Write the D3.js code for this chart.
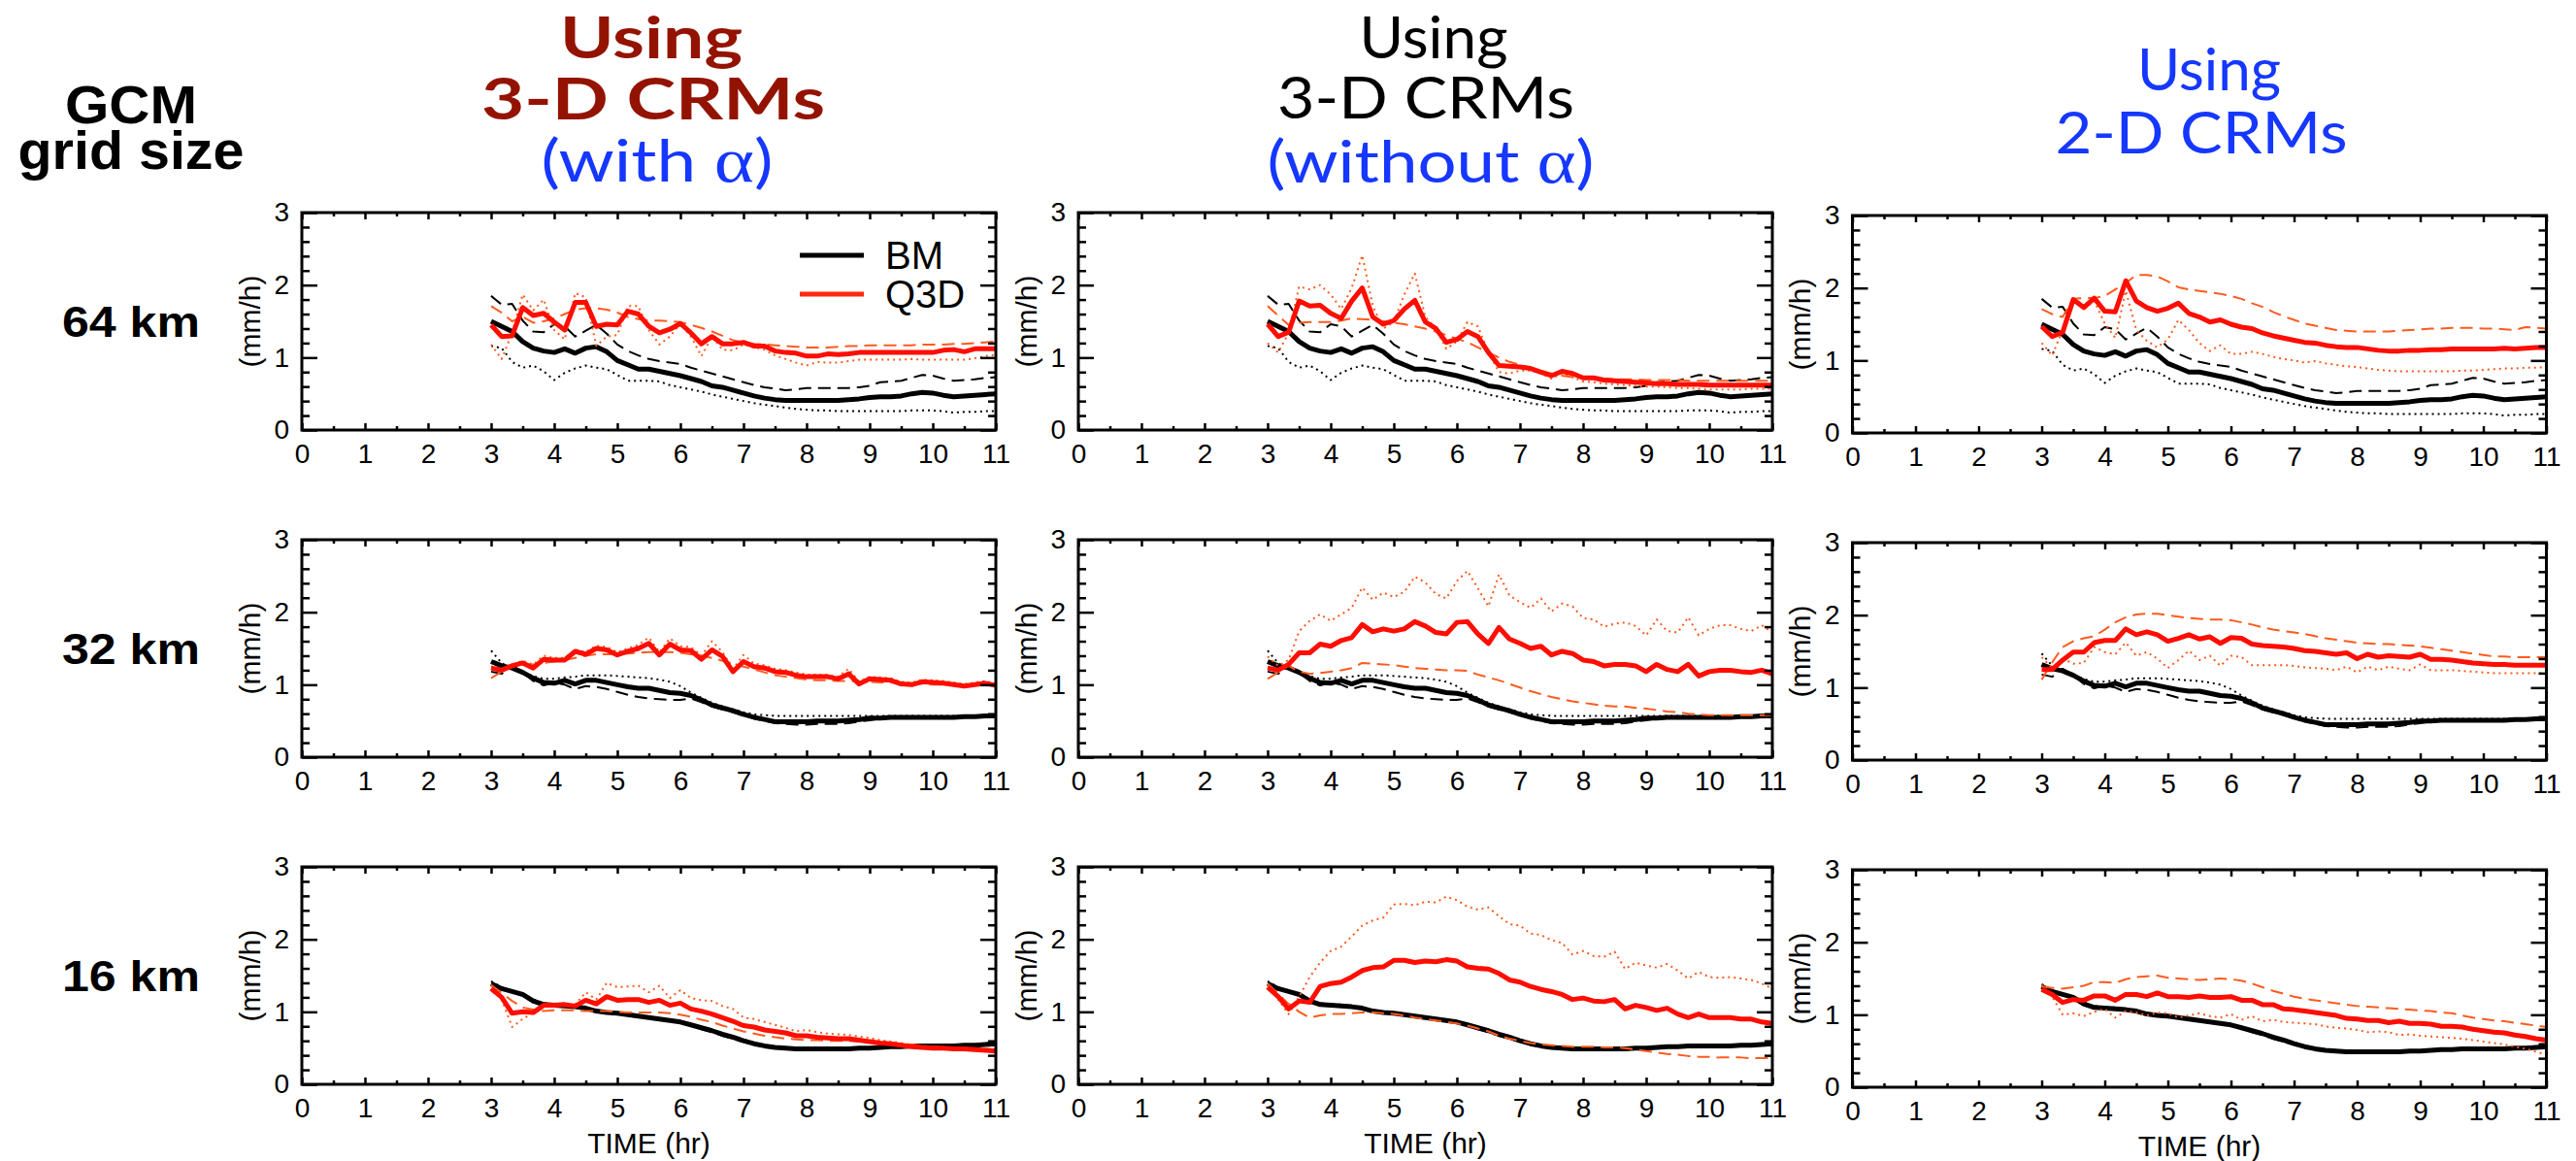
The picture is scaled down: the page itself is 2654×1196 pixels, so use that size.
<!DOCTYPE html>
<html><head><meta charset="utf-8">
<script src="https://cdn.jsdelivr.net/npm/d3@7"></script>
<style>body{margin:0;background:#fff}svg{display:block}</style>
</head><body>
<script>
// ---------- DATA ----------
const T = [3,3.167,3.333,3.5,3.667,3.833, 4,4.167,4.333,4.5,4.667,4.833, 5,5.167,5.333,5.5,5.667,5.833,
  6,6.167,6.333,6.5,6.667,6.833, 7,7.167,7.333,7.5,7.667,7.833, 8,8.167,8.333,8.5,8.667,8.833,
  9,9.167,9.333,9.5,9.667,9.833, 10,10.167,10.333,10.5,10.667,10.833, 11];
const X_TICKS = [0,1,2,3,4,5,6,7,8,9,10,11];
const Y_TICKS = [0,1,2,3];
const ROW_LABELS = ["64 km","32 km","16 km"];
const LEGEND_LABELS = ["BM","Q3D"];

// 64 km — BM (same in all three columns)
const BM64_MEAN = [1.50,1.43,1.36,1.22,1.13,1.09, 1.07,1.12,1.06,1.13,1.15,1.08, 0.96,0.90,0.84,0.84,0.81,0.78, 0.75,0.71,0.67,0.61,0.59,0.55, 0.51,0.47,0.44,0.42,0.41,0.41, 0.41,0.41,0.41,0.41,0.42,0.43, 0.45,0.46,0.46,0.47,0.50,0.52, 0.51,0.48,0.46,0.47,0.48,0.49, 0.50];
const BM64_DASH = [1.85,1.73,1.74,1.51,1.36,1.35, 1.46,1.43,1.29,1.37,1.45,1.33, 1.18,1.09,1.03,0.98,0.95,0.93, 0.91,0.86,0.82,0.78,0.74,0.70, 0.66,0.62,0.59,0.57,0.55,0.56, 0.58,0.58,0.58,0.58,0.58,0.59, 0.61,0.66,0.67,0.68,0.72,0.76, 0.75,0.71,0.68,0.69,0.70,0.72, 0.73];
const BM64_DOT = [1.16,1.13,0.94,0.86,0.89,0.81, 0.69,0.79,0.85,0.89,0.86,0.84, 0.76,0.68,0.68,0.68,0.67,0.62, 0.59,0.56,0.53,0.49,0.46,0.43, 0.40,0.37,0.35,0.33,0.31,0.29, 0.28,0.27,0.27,0.26,0.26,0.26, 0.26,0.26,0.26,0.26,0.27,0.27, 0.27,0.26,0.24,0.25,0.25,0.26, 0.26];
// 64 km — Q3D
const Q64_WITH_MEAN = [1.45,1.29,1.30,1.69,1.58,1.61, 1.49,1.38,1.76,1.76,1.43,1.46, 1.45,1.64,1.60,1.43,1.34,1.39, 1.47,1.34,1.19,1.29,1.19,1.19, 1.21,1.16,1.16,1.09,1.07,1.06, 1.02,1.02,1.05,1.04,1.05,1.07, 1.07,1.07,1.07,1.07,1.07,1.07, 1.07,1.10,1.11,1.08,1.12,1.12, 1.12];
const Q64_WITH_DASH = [1.71,1.62,1.50,1.56,1.48,1.50, 1.54,1.60,1.66,1.68,1.68,1.66, 1.62,1.56,1.53,1.51,1.51,1.50, 1.49,1.45,1.41,1.36,1.30,1.24, 1.21,1.19,1.18,1.17,1.16,1.15, 1.14,1.14,1.14,1.15,1.16,1.16, 1.17,1.17,1.17,1.17,1.17,1.18, 1.18,1.18,1.19,1.19,1.20,1.21, 1.22];
const Q64_WITH_DOT = [1.18,0.98,1.34,1.87,1.65,1.80, 1.38,1.25,1.89,1.83,1.16,1.29, 1.31,1.71,1.71,1.38,1.18,1.29, 1.47,1.29,1.02,1.29,1.11,1.10, 1.18,1.14,1.11,1.03,0.98,0.93, 0.89,0.94,0.93,0.93,0.95,0.97, 0.97,0.97,0.97,0.97,0.98,0.97, 0.97,0.97,0.97,0.97,0.99,1.02, 1.04];
const Q64_WITHOUT_MEAN = [1.46,1.29,1.35,1.78,1.71,1.72, 1.61,1.54,1.78,1.96,1.56,1.46, 1.51,1.67,1.79,1.49,1.40,1.21, 1.25,1.36,1.29,1.07,0.89,0.88, 0.87,0.85,0.80,0.75,0.81,0.78, 0.72,0.72,0.69,0.68,0.67,0.66, 0.65,0.64,0.64,0.63,0.63,0.63, 0.62,0.62,0.62,0.62,0.62,0.62, 0.62];
const Q64_WITHOUT_DASH = [1.71,1.58,1.45,1.48,1.49,1.49, 1.49,1.51,1.54,1.53,1.52,1.50, 1.48,1.46,1.43,1.40,1.36,1.31, 1.26,1.21,1.14,1.07,1.00,0.94, 0.90,0.86,0.82,0.78,0.75,0.73, 0.72,0.71,0.71,0.70,0.70,0.70, 0.69,0.69,0.69,0.69,0.68,0.68, 0.68,0.68,0.68,0.68,0.68,0.68, 0.68];
const Q64_WITHOUT_DOT = [1.20,1.07,1.34,1.98,1.94,2.00, 1.87,1.67,1.96,2.41,1.71,1.40, 1.49,1.87,2.16,1.56,1.40,1.12, 1.22,1.49,1.43,1.07,0.80,0.78, 0.82,0.82,0.78,0.71,0.78,0.73, 0.67,0.66,0.64,0.63,0.62,0.61, 0.60,0.60,0.59,0.58,0.58,0.57, 0.56,0.56,0.56,0.56,0.57,0.57, 0.57];
const Q64_2D_MEAN = [1.47,1.33,1.39,1.84,1.73,1.86, 1.68,1.67,2.10,1.82,1.73,1.68, 1.72,1.79,1.65,1.60,1.53,1.56, 1.50,1.46,1.44,1.38,1.34,1.31, 1.28,1.25,1.24,1.21,1.19,1.18, 1.18,1.16,1.14,1.13,1.13,1.14, 1.14,1.15,1.15,1.16,1.16,1.16, 1.16,1.16,1.17,1.16,1.17,1.18, 1.18];
const Q64_2D_DASH = [1.71,1.64,1.60,1.85,1.86,1.86, 1.89,1.98,2.07,2.18,2.18,2.16, 2.09,2.01,1.98,1.96,1.94,1.92, 1.89,1.85,1.79,1.74,1.67,1.61, 1.56,1.51,1.48,1.45,1.42,1.41, 1.40,1.40,1.40,1.40,1.41,1.42, 1.43,1.44,1.44,1.45,1.45,1.45, 1.44,1.44,1.43,1.42,1.46,1.45, 1.44];
const Q64_2D_DOT = [1.24,1.07,1.42,1.86,1.71,1.82, 1.51,1.31,1.96,1.42,1.27,1.18, 1.29,1.56,1.42,1.24,1.13,1.21, 1.09,1.09,1.12,1.09,1.05,1.02, 1.00,0.97,0.99,0.96,0.94,0.92, 0.91,0.89,0.87,0.86,0.85,0.85, 0.85,0.85,0.85,0.85,0.86,0.86, 0.87,0.88,0.89,0.89,0.90,0.90, 0.91];

// 32 km — BM
const BM32_MEAN = [1.32,1.26,1.23,1.17,1.09,1.03, 1.02,1.06,1.01,1.06,1.06,1.03, 1.00,0.97,0.95,0.95,0.92,0.89, 0.88,0.85,0.79,0.72,0.68,0.64, 0.59,0.55,0.52,0.49,0.49,0.49, 0.49,0.50,0.50,0.50,0.51,0.52, 0.54,0.54,0.55,0.55,0.55,0.55, 0.55,0.55,0.55,0.56,0.56,0.57, 0.57];
const BM32_DASH = [1.18,1.15,1.26,1.17,1.05,0.99, 1.03,1.00,0.94,0.98,0.97,0.94, 0.90,0.86,0.83,0.81,0.80,0.79, 0.79,0.81,0.76,0.70,0.66,0.62, 0.58,0.54,0.50,0.47,0.46,0.45, 0.45,0.46,0.46,0.46,0.47,0.49, 0.51,0.53,0.54,0.54,0.54,0.55, 0.55,0.54,0.54,0.55,0.55,0.56, 0.56];
const BM32_DOT = [1.47,1.30,1.21,1.17,1.12,1.08, 1.08,1.10,1.11,1.13,1.13,1.13, 1.12,1.11,1.10,1.09,1.07,1.04, 0.98,0.89,0.82,0.75,0.70,0.66, 0.62,0.59,0.58,0.57,0.57,0.57, 0.57,0.57,0.57,0.57,0.57,0.57, 0.57,0.57,0.57,0.57,0.57,0.57, 0.57,0.57,0.57,0.57,0.57,0.58, 0.58];
// 32 km — Q3D
const Q32_WITH_MEAN = [1.23,1.20,1.26,1.30,1.23,1.35, 1.34,1.34,1.46,1.42,1.50,1.48, 1.41,1.46,1.50,1.57,1.41,1.56, 1.48,1.47,1.35,1.48,1.39,1.18, 1.32,1.25,1.23,1.18,1.17,1.13, 1.11,1.11,1.11,1.08,1.15,1.01, 1.08,1.07,1.06,1.01,1.00,1.04, 1.03,1.02,1.00,0.98,1.00,1.02, 0.99];
const Q32_WITH_DASH = [1.09,1.18,1.28,1.28,1.28,1.30, 1.32,1.34,1.37,1.40,1.42,1.42, 1.42,1.43,1.44,1.45,1.45,1.45, 1.44,1.42,1.40,1.37,1.33,1.29, 1.25,1.21,1.17,1.13,1.11,1.09, 1.07,1.06,1.06,1.05,1.05,1.04, 1.04,1.03,1.03,1.03,1.02,1.01, 1.00,1.00,1.00,0.99,0.99,1.00, 1.00];
const Q32_WITH_DOT = [1.25,1.22,1.28,1.33,1.28,1.40, 1.37,1.37,1.48,1.45,1.54,1.52, 1.45,1.50,1.55,1.65,1.45,1.64, 1.53,1.52,1.40,1.60,1.45,1.22, 1.41,1.29,1.27,1.22,1.20,1.17, 1.14,1.14,1.14,1.11,1.22,1.04, 1.11,1.10,1.09,1.04,1.03,1.07, 1.06,1.05,1.03,1.01,1.03,1.05, 1.02];
const Q32_WITHOUT_MEAN = [1.23,1.20,1.28,1.44,1.44,1.56, 1.53,1.61,1.65,1.83,1.73,1.77, 1.74,1.77,1.87,1.81,1.72,1.70, 1.86,1.87,1.70,1.57,1.79,1.63, 1.57,1.50,1.53,1.41,1.46,1.43, 1.34,1.32,1.26,1.28,1.28,1.26, 1.18,1.28,1.21,1.18,1.28,1.12, 1.18,1.20,1.20,1.18,1.17,1.20, 1.15];
const Q32_WITHOUT_DASH = [1.08,1.17,1.26,1.18,1.15,1.16, 1.18,1.20,1.23,1.30,1.29,1.28, 1.27,1.25,1.23,1.22,1.21,1.20, 1.20,1.19,1.14,1.10,1.06,1.01, 0.96,0.91,0.87,0.83,0.80,0.77, 0.75,0.73,0.71,0.70,0.70,0.68, 0.67,0.65,0.63,0.62,0.60,0.59, 0.58,0.58,0.58,0.58,0.58,0.58, 0.58];
const Q32_WITHOUT_DOT = [1.39,1.26,1.34,1.74,1.88,1.97, 1.88,1.97,2.06,2.34,2.17,2.27, 2.21,2.28,2.49,2.41,2.25,2.19, 2.43,2.57,2.33,2.08,2.52,2.23, 2.14,2.06,2.19,2.01,2.12,2.08, 1.92,1.90,1.80,1.84,1.86,1.81, 1.68,1.90,1.74,1.72,1.93,1.68, 1.77,1.82,1.82,1.77,1.74,1.82, 1.72];
const Q32_2D_MEAN = [1.25,1.25,1.38,1.49,1.49,1.62, 1.65,1.65,1.81,1.73,1.77,1.73, 1.64,1.68,1.73,1.67,1.70,1.61, 1.69,1.68,1.60,1.58,1.57,1.56, 1.54,1.51,1.50,1.48,1.46,1.48, 1.40,1.46,1.42,1.44,1.43,1.42, 1.46,1.39,1.39,1.38,1.36,1.34, 1.33,1.32,1.32,1.31,1.31,1.31, 1.31];
const Q32_2D_DASH = [1.11,1.35,1.56,1.64,1.68,1.71, 1.80,1.90,1.97,2.01,2.02,2.02, 2.00,1.98,1.96,1.95,1.94,1.94, 1.93,1.90,1.87,1.83,1.80,1.78, 1.76,1.74,1.71,1.68,1.66,1.64, 1.62,1.61,1.60,1.60,1.59,1.58, 1.57,1.55,1.53,1.51,1.49,1.47, 1.45,1.43,1.43,1.42,1.42,1.42, 1.42];
const Q32_2D_DOT = [1.42,1.27,1.40,1.33,1.34,1.56, 1.49,1.46,1.62,1.44,1.49,1.40, 1.27,1.38,1.51,1.38,1.44,1.30, 1.44,1.42,1.31,1.31,1.31,1.31, 1.30,1.28,1.27,1.26,1.24,1.29, 1.21,1.29,1.24,1.29,1.26,1.24, 1.32,1.24,1.24,1.24,1.23,1.22, 1.21,1.20,1.20,1.20,1.20,1.20, 1.20];

// 16 km — BM
const BM16_MEAN = [1.39,1.32,1.28,1.24,1.15,1.10, 1.09,1.08,1.07,1.05,1.01,0.99, 0.98,0.96,0.94,0.92,0.90,0.88, 0.86,0.82,0.78,0.74,0.69,0.65, 0.60,0.56,0.53,0.51,0.50,0.49, 0.49,0.49,0.49,0.49,0.49,0.50, 0.50,0.51,0.52,0.52,0.53,0.53, 0.53,0.53,0.53,0.54,0.54,0.55, 0.56];
const BM16_DASH = [1.37,1.31,1.27,1.22,1.13,1.09, 1.08,1.08,1.06,1.04,1.00,0.98, 0.97,0.95,0.93,0.91,0.89,0.87, 0.85,0.81,0.76,0.72,0.67,0.63, 0.59,0.55,0.52,0.50,0.49,0.48, 0.48,0.48,0.48,0.48,0.48,0.49, 0.49,0.50,0.51,0.52,0.52,0.53, 0.53,0.53,0.53,0.53,0.54,0.55, 0.55];
const BM16_DOT = [1.42,1.34,1.29,1.25,1.17,1.12, 1.10,1.10,1.08,1.06,1.02,1.00, 0.99,0.97,0.95,0.93,0.91,0.89, 0.87,0.83,0.79,0.75,0.70,0.66, 0.62,0.57,0.54,0.52,0.51,0.50, 0.50,0.50,0.50,0.50,0.50,0.51, 0.51,0.52,0.53,0.53,0.54,0.54, 0.54,0.54,0.54,0.55,0.55,0.56, 0.57];
// 16 km — Q3D
const Q16_WITH_MEAN = [1.32,1.20,0.98,1.00,0.99,1.09, 1.09,1.10,1.08,1.16,1.11,1.21, 1.16,1.17,1.17,1.13,1.16,1.09, 1.12,1.04,1.01,0.97,0.92,0.87, 0.81,0.79,0.75,0.73,0.71,0.67, 0.67,0.65,0.64,0.63,0.63,0.61, 0.59,0.57,0.56,0.54,0.52,0.51, 0.50,0.50,0.49,0.49,0.48,0.47, 0.46];
const Q16_WITH_DASH = [1.37,1.26,1.15,1.06,1.03,1.01, 1.02,1.02,1.02,1.01,1.01,1.01, 1.00,0.99,0.99,0.99,0.99,0.98, 0.96,0.93,0.89,0.86,0.81,0.77, 0.73,0.70,0.67,0.65,0.63,0.62, 0.61,0.61,0.60,0.60,0.60,0.59, 0.59,0.58,0.57,0.56,0.55,0.53, 0.52,0.51,0.50,0.50,0.49,0.49, 0.48];
const Q16_WITH_DOT = [1.37,1.17,0.79,0.90,0.99,1.08, 1.08,1.08,1.10,1.27,1.17,1.40, 1.34,1.35,1.36,1.27,1.36,1.19, 1.30,1.19,1.16,1.15,1.08,1.04, 0.92,0.90,0.86,0.82,0.78,0.73, 0.75,0.72,0.70,0.69,0.68,0.66, 0.64,0.61,0.59,0.57,0.54,0.53, 0.52,0.51,0.50,0.50,0.49,0.48, 0.47];
const Q16_WITHOUT_MEAN = [1.34,1.21,1.04,1.15,1.13,1.35, 1.39,1.41,1.48,1.57,1.61,1.62, 1.71,1.71,1.68,1.70,1.69,1.72, 1.70,1.62,1.60,1.59,1.53,1.44, 1.41,1.35,1.31,1.28,1.24,1.17, 1.19,1.15,1.14,1.17,1.04,1.09, 1.06,1.02,1.05,0.97,0.92,0.97, 0.92,0.92,0.92,0.90,0.90,0.86, 0.84];
const Q16_WITHOUT_DASH = [1.39,1.25,1.11,1.00,0.92,0.95, 0.97,0.97,0.98,0.99,0.99,0.98, 0.97,0.95,0.92,0.90,0.88,0.86, 0.84,0.81,0.77,0.73,0.67,0.63, 0.60,0.57,0.55,0.54,0.53,0.52, 0.52,0.52,0.51,0.51,0.50,0.48, 0.46,0.44,0.42,0.41,0.39,0.38, 0.38,0.37,0.37,0.37,0.36,0.36, 0.36];
const Q16_WITHOUT_DOT = [1.37,1.17,0.97,1.21,1.48,1.68, 1.84,1.90,2.04,2.19,2.26,2.30, 2.48,2.49,2.47,2.52,2.51,2.59, 2.54,2.45,2.41,2.44,2.32,2.21, 2.19,2.08,2.06,1.99,1.95,1.79, 1.84,1.77,1.76,1.83,1.59,1.68, 1.64,1.61,1.66,1.57,1.46,1.55, 1.48,1.47,1.48,1.46,1.44,1.39, 1.32];
const Q16_2D_MEAN = [1.35,1.28,1.17,1.21,1.20,1.26, 1.26,1.20,1.28,1.28,1.25,1.30, 1.25,1.25,1.24,1.26,1.24,1.24, 1.25,1.20,1.20,1.14,1.14,1.08, 1.07,1.05,1.03,1.01,0.99,0.95, 0.94,0.92,0.92,0.89,0.91,0.88, 0.88,0.87,0.84,0.84,0.83,0.80, 0.78,0.76,0.75,0.72,0.70,0.67, 0.65];
const Q16_2D_DASH = [1.39,1.37,1.36,1.38,1.40,1.45, 1.45,1.44,1.49,1.52,1.53,1.54, 1.51,1.50,1.49,1.48,1.49,1.50, 1.49,1.47,1.43,1.38,1.33,1.29, 1.25,1.22,1.20,1.18,1.16,1.14, 1.12,1.11,1.10,1.09,1.08,1.07, 1.06,1.05,1.03,1.02,0.99,0.96, 0.94,0.92,0.91,0.89,0.87,0.85, 0.83];
const Q16_2D_DOT = [1.41,1.25,1.00,1.02,0.98,1.04, 1.08,0.96,1.05,1.03,0.99,1.03, 1.02,0.96,0.99,1.02,0.98,0.96, 1.01,0.93,0.98,0.91,0.93,0.90, 0.89,0.88,0.87,0.84,0.82,0.81, 0.79,0.76,0.77,0.76,0.72,0.73, 0.71,0.70,0.69,0.68,0.67,0.65, 0.63,0.61,0.59,0.56,0.53,0.49, 0.45];

// header text lines per column
const HEAD_COL1 = ["Using", "3-D CRMs", "(with α)"];
const HEAD_COL2 = ["Using", "3-D CRMs", "(without α)"];
const HEAD_COL3 = ["Using", "2-D CRMs"];
const SIDE_HEAD = ["GCM", "grid size"];

// ---------- LAYOUT ----------
const W = 2654, H = 1196;
const COL_X = [311, 1111, 1908.5], COL_DY = [0, 0, 3], ROW_Y = [219, 556, 893];
const PW = 715, PH = 224;
const BLACK = "#000", RED = "#ff0d00", ORANGE = "#ff5a1e", LEG_RED = "#ff2a10";
const BLUE = "#1537ff", DARKRED = "#931300";
const SANS = "'Liberation Sans', Arial, sans-serif";

const svg = d3.select("body").append("svg").attr("width", W).attr("height", H)
  .style("font-family", SANS);

const x = d3.scaleLinear().domain([0, 11]).range([0, PW]);
const y = d3.scaleLinear().domain([0, 3]).range([PH, 0]);
const line = d3.line().x((d, i) => x(T[i])).y(d => y(d));

const BM = [[BM64_MEAN, BM64_DASH, BM64_DOT], [BM32_MEAN, BM32_DASH, BM32_DOT], [BM16_MEAN, BM16_DASH, BM16_DOT]];
const Q = [
  [[Q64_WITH_MEAN, Q64_WITH_DASH, Q64_WITH_DOT], [Q64_WITHOUT_MEAN, Q64_WITHOUT_DASH, Q64_WITHOUT_DOT], [Q64_2D_MEAN, Q64_2D_DASH, Q64_2D_DOT]],
  [[Q32_WITH_MEAN, Q32_WITH_DASH, Q32_WITH_DOT], [Q32_WITHOUT_MEAN, Q32_WITHOUT_DASH, Q32_WITHOUT_DOT], [Q32_2D_MEAN, Q32_2D_DASH, Q32_2D_DOT]],
  [[Q16_WITH_MEAN, Q16_WITH_DASH, Q16_WITH_DOT], [Q16_WITHOUT_MEAN, Q16_WITHOUT_DASH, Q16_WITHOUT_DOT], [Q16_2D_MEAN, Q16_2D_DASH, Q16_2D_DOT]]
];

const yMinor = d3.range(0, 3.001, 0.2).filter(v => Math.abs(v - Math.round(v)) > 1e-6);
const xMinor = X_TICKS.slice(0, -1).map(v => v + 0.5);

function styleAxis(sel, withText) {
  sel.select(".domain").remove();
  sel.selectAll(".tick line").attr("stroke", "#000").attr("stroke-width", 2.5);
  sel.selectAll("text").attr("fill", "#000").style("font-size", "28px").style("font-family", SANS);
  if (!withText) sel.selectAll("text").remove();
}

for (let r = 0; r < 3; r++) {
  for (let c = 0; c < 3; c++) {
    const g = svg.append("g").attr("transform", `translate(${COL_X[c]},${ROW_Y[r] + COL_DY[c]})`);
    const [bmMean, bmDash, bmDot] = BM[r];
    const [qMean, qDash, qDot] = Q[r][c];
    const series = [
      {d: bmDot, color: BLACK, w: 2, dash: "2,4"},
      {d: bmDash, color: BLACK, w: 2, dash: "13,7"},
      {d: bmMean, color: BLACK, w: 5, dash: null},
      {d: qDash, color: ORANGE, w: 2, dash: "13,7"},
      {d: qDot, color: ORANGE, w: 2, dash: "2,4"},
      {d: qMean, color: RED, w: 5, dash: null}
    ];
    g.selectAll("path.series").data(series).join("path").attr("class", "series")
      .attr("d", s => line(s.d)).attr("fill", "none").attr("stroke", s => s.color)
      .attr("stroke-width", s => s.w).attr("stroke-dasharray", s => s.dash)
      .attr("stroke-linejoin", "round");

    // axes (ticks point inward on all four sides)
    g.append("g").call(d3.axisLeft(y).tickValues(Y_TICKS).tickSizeInner(-16).tickSizeOuter(0).tickPadding(13).tickFormat(d3.format("d"))).call(s => styleAxis(s, true));
    g.append("g").call(d3.axisLeft(y).tickValues(yMinor).tickSizeInner(-8).tickSizeOuter(0)).call(s => styleAxis(s, false));
    g.append("g").attr("transform", `translate(${PW},0)`).call(d3.axisRight(y).tickValues(Y_TICKS).tickSizeInner(-16).tickSizeOuter(0)).call(s => styleAxis(s, false));
    g.append("g").attr("transform", `translate(${PW},0)`).call(d3.axisRight(y).tickValues(yMinor).tickSizeInner(-8).tickSizeOuter(0)).call(s => styleAxis(s, false));
    g.append("g").attr("transform", `translate(0,${PH})`).call(d3.axisBottom(x).tickValues(X_TICKS).tickSizeInner(-7).tickSizeOuter(0).tickPadding(14).tickFormat(d3.format("d"))).call(s => styleAxis(s, true));
    g.append("g").attr("transform", `translate(0,${PH})`).call(d3.axisBottom(x).tickValues(xMinor).tickSizeInner(-4).tickSizeOuter(0)).call(s => styleAxis(s, false));
    g.append("g").call(d3.axisTop(x).tickValues(X_TICKS).tickSizeInner(-7).tickSizeOuter(0)).call(s => styleAxis(s, false));
    g.append("g").call(d3.axisTop(x).tickValues(xMinor).tickSizeInner(-4).tickSizeOuter(0)).call(s => styleAxis(s, false));

    g.append("rect").attr("x", 0).attr("y", 0).attr("width", PW).attr("height", PH)
      .attr("fill", "none").attr("stroke", "#000").attr("stroke-width", 3);

    g.append("text").attr("transform", `translate(-54,${PH / 2}) rotate(-90)`)
      .attr("text-anchor", "middle").attr("dominant-baseline", "central")
      .style("font-size", "30px").text("(mm/h)");

    if (r === 2) {
      g.append("text").attr("x", PW / 2).attr("y", PH + 71).attr("text-anchor", "middle")
        .style("font-size", "30px").text("TIME (hr)");
    }

    if (r === 0 && c === 0) {
      const lg = g.append("g").attr("transform", "translate(513,44)");
      [BLACK, LEG_RED].forEach((col, i) => {
        lg.append("line").attr("x1", 0).attr("x2", 66).attr("y1", i * 40).attr("y2", i * 40)
          .attr("stroke", col).attr("stroke-width", 5);
        lg.append("text").attr("x", 88).attr("y", i * 40).attr("dominant-baseline", "central")
          .style("font-size", "40px").text(LEGEND_LABELS[i]);
      });
    }
  }
}

// row labels
ROW_LABELS.forEach((lab, r) => {
  svg.append("text").attr("x", 135).attr("y", ROW_Y[r] + PH / 2 + 16).attr("text-anchor", "middle")
    .attr("textLength", 142).attr("lengthAdjust", "spacingAndGlyphs")
    .style("font-size", "44px").style("font-weight", "bold").text(lab);
});

// multi-line text block helper: one <text>, one <tspan> per line (α nested in its line)
function block(lines, opts) {
  const t = svg.append("text").attr("text-anchor", "middle")
    .style("font-family", opts.font).style("font-size", opts.size + "px");
  lines.forEach((s, i) => {
    const col = opts.colors ? opts.colors[i] : opts.color;
    const sp = t.append("tspan").attr("x", opts.x[i]).attr("y", opts.y[i])
      .attr("textLength", opts.len[i]).attr("lengthAdjust", "spacingAndGlyphs")
      .style("font-weight", opts.bold[i] ? "bold" : "normal").attr("fill", col);
    if (s.includes("α")) {
      const parts = s.split("α");
      sp.append("tspan").text(parts[0]);
      sp.append("tspan").style("font-family", "'Liberation Serif', 'DejaVu Serif', serif")
        .style("font-size", (opts.size * 1.08) + "px").text("α");
      sp.append("tspan").text(parts[1]);
    } else sp.text(s);
  });
  return t;
}

// GCM grid size
block(SIDE_HEAD, {x: [135, 135], y: [127, 174], len: [136, 233], bold: [true, true],
  color: "#000", font: SANS, size: 56});

// column headers (Gill-Sans-like humanist face)
const HEAD_FONT = "Lato, 'Open Sans', sans-serif";
block(HEAD_COL1, {x: [671, 673, 677], y: [60, 123, 187], len: [188, 354, 239], bold: [true, true, false],
  colors: [DARKRED, DARKRED, BLUE], font: HEAD_FONT, size: 60});
block(HEAD_COL2, {x: [1477, 1469, 1474], y: [60, 122, 188], len: [153, 306, 337], bold: [false, false, false],
  colors: ["#000", "#000", BLUE], font: HEAD_FONT, size: 60});
block(HEAD_COL3, {x: [2276, 2268], y: [93, 158], len: [148, 301], bold: [false, false],
  color: BLUE, font: HEAD_FONT, size: 60});
</script>
</body></html>
